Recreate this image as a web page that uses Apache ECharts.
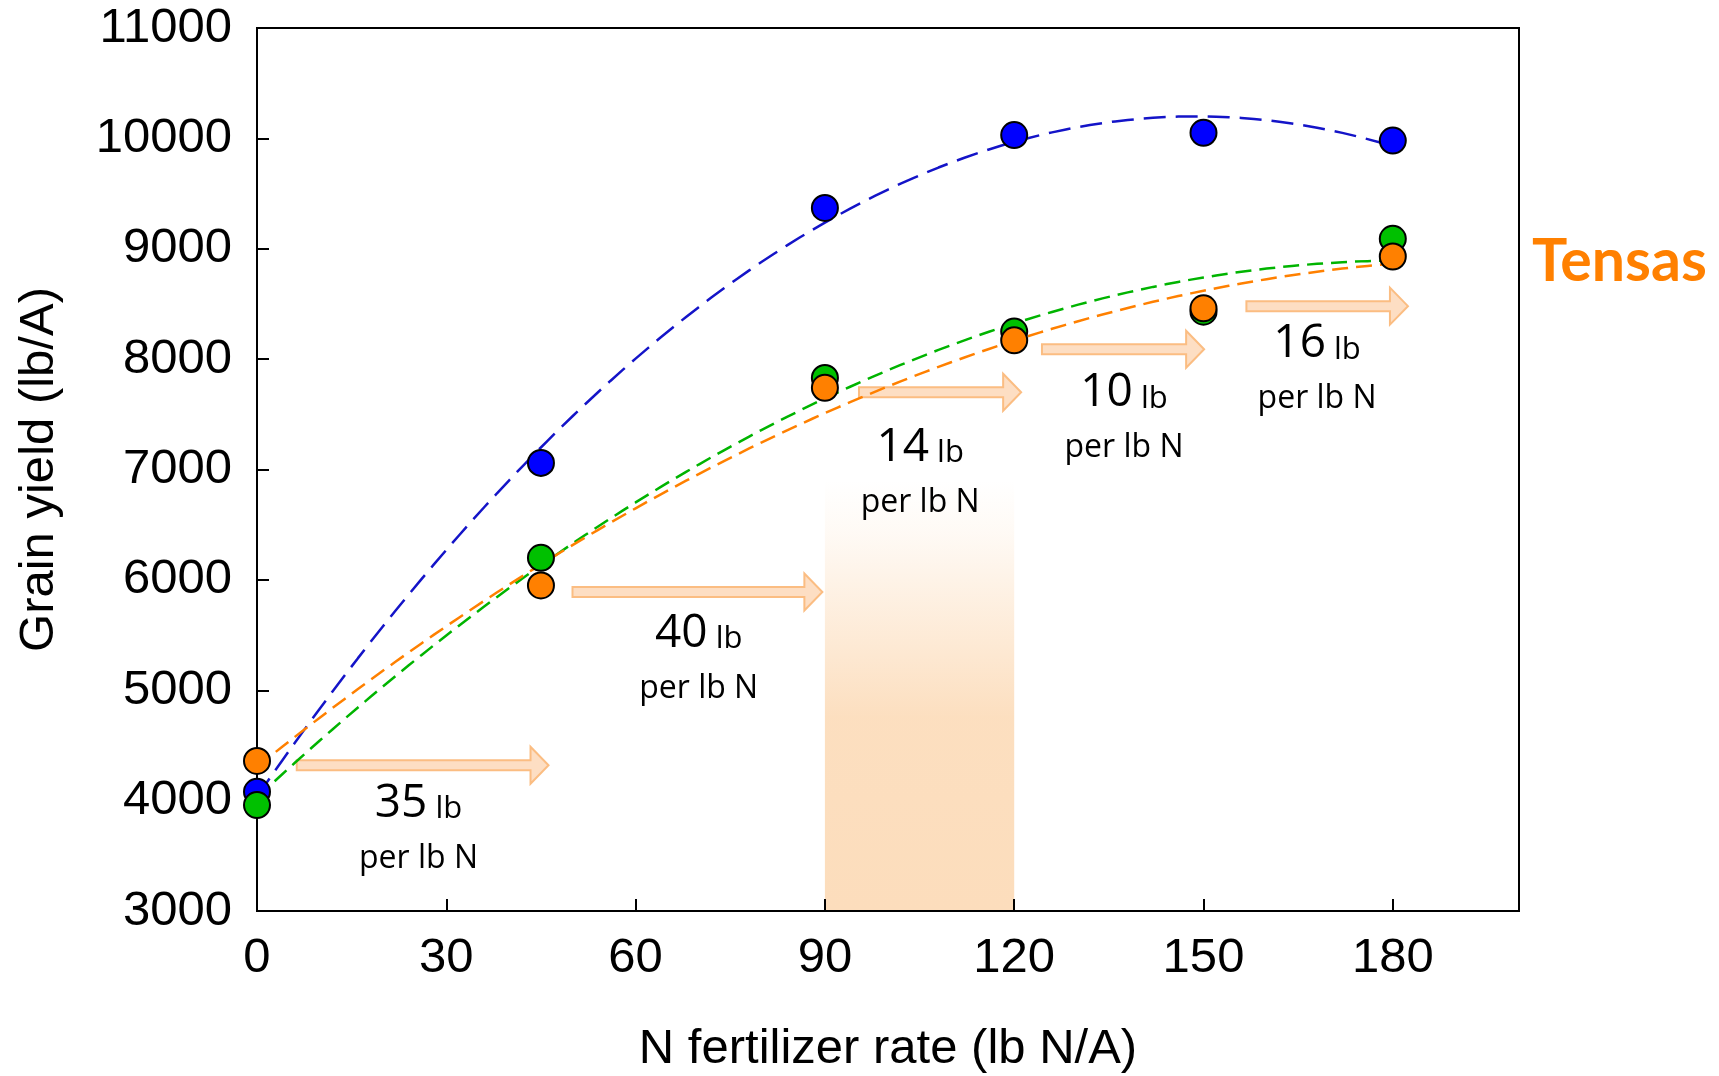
<!DOCTYPE html>
<html>
<head>
<meta charset="utf-8">
<script src="https://cdn.jsdelivr.net/npm/echarts@6/dist/echarts.min.js"></script>
<style>
  html, body { margin: 0; padding: 0; background: #ffffff; }
  #chart { width: 1719px; height: 1076px; }
</style>
</head>
<body>
<div id="chart"></div>
<script>
// N rates (lb N/A) and grain yield (lb/A) for the three hybrids/sites
const nRates = [0, 45, 90, 120, 150, 180];
const yieldBlue = [4080, 7060, 9370, 10030, 10050, 9980];
const yieldGreen = [3960, 6200, 7830, 8250, 8430, 9090];
const yieldOrange = [4360, 5950, 7740, 8170, 8460, 8930];

// yield response annotations: arrow [from N, to N, at yield]
const responseArrows = [
  [6.3, 46.2, 4320],
  [50.0, 89.6, 5890],
  [95.4, 121.1, 7700],
  [124.4, 150.1, 8090],
  [156.8, 182.4, 8480]
];
// response text: [centre N, yield, lb grain per lb N]
const responseLabels = [
  [25.6, 3970, '35'],
  [70.0, 5510, '40'],
  [105.1, 7200, '14'],
  [137.4, 7690, '10'],
  [168.0, 8135, '16']
];
// highlighted N range and the yield where its shading fades out
const optimumRange = [90, 120];
const optimumFadeTop = 6900;

// least-squares quadratic trendline y = a + b x + c x^2
function quadraticFit(xs, ys) {
  const S = [0, 0, 0, 0, 0], T = [0, 0, 0];
  xs.forEach((x, i) => {
    let p = 1;
    for (let k = 0; k < 5; k++) {
      S[k] += p;
      if (k < 3) T[k] += p * ys[i];
      p *= x;
    }
  });
  const M = [[S[0], S[1], S[2]], [S[1], S[2], S[3]], [S[2], S[3], S[4]]];
  const det = m =>
    m[0][0] * (m[1][1] * m[2][2] - m[1][2] * m[2][1]) -
    m[0][1] * (m[1][0] * m[2][2] - m[1][2] * m[2][0]) +
    m[0][2] * (m[1][0] * m[2][1] - m[1][1] * m[2][0]);
  const D = det(M);
  const c = [0, 1, 2].map(j => det(M.map((row, i) => row.map((v, k) => (k === j ? T[i] : v)))) / D);
  return x => c[0] + c[1] * x + c[2] * x * x;
}
function trendPoints(ys) {
  const f = quadraticFit(nRates, ys);
  const pts = [];
  const x0 = nRates[0], x1 = nRates[nRates.length - 1];
  for (let x = x0; x <= x1; x += 2) pts.push([x, f(x)]);
  return pts;
}
const pairs = ys => nRates.map((x, i) => [x, ys[i]]);

const AXIS_FONT = 'Liberation Sans, Arial, sans-serif';
const NOTE_FONT = 'Open Sans, Noto Sans, sans-serif';

const chart = echarts.init(document.getElementById('chart'), null, { renderer: 'canvas' });

const scatterStyle = color => ({
  type: 'scatter',
  symbol: 'circle',
  symbolSize: 26,
  itemStyle: { color: color, borderColor: '#000000', borderWidth: 2, opacity: 1 },
  emphasis: { disabled: true },
  silent: true
});
const trendStyle = (color, dash) => ({
  type: 'line',
  showSymbol: false,
  symbol: 'none',
  smooth: false,
  lineStyle: { color: color, width: 2.5, type: dash },
  emphasis: { disabled: true },
  silent: true
});

chart.setOption({
  animation: false,
  backgroundColor: '#ffffff',
  title: {
    text: 'Tensas',
    left: 1532,
    top: 232,
    padding: 0,
    textStyle: { color: '#FF8000', fontFamily: 'Lato, Open Sans, sans-serif', fontWeight: 'bold', fontSize: 59 }
  },
  grid: {
    left: 257, right: 200, top: 28, bottom: 165,
    containLabel: false,
    outerBoundsMode: 'none',
    show: true, borderColor: '#000000', borderWidth: 2, backgroundColor: 'transparent'
  },
  xAxis: {
    type: 'value',
    min: 0, max: 200, interval: 30,
    name: 'N fertilizer rate (lb N/A)',
    nameLocation: 'middle',
    nameGap: 114,
    nameTextStyle: { fontFamily: AXIS_FONT, fontSize: 49, color: '#000000' },
    axisLine: { show: true, onZero: false, lineStyle: { color: '#000000', width: 2 } },
    axisTick: { show: true, inside: true, length: 12, lineStyle: { color: '#000000', width: 2 } },
    axisLabel: { fontFamily: AXIS_FONT, fontSize: 49, color: '#000000', margin: 23, showMaxLabel: false,
                 formatter: v => String(v) },
    splitLine: { show: false }
  },
  yAxis: {
    type: 'value',
    min: 3000, max: 11000, interval: 1000,
    name: 'Grain yield (lb/A)',
    nameLocation: 'middle',
    nameGap: 193,
    nameTextStyle: { fontFamily: AXIS_FONT, fontSize: 49, color: '#000000' },
    axisLine: { show: true, lineStyle: { color: '#000000', width: 2 } },
    axisTick: { show: true, inside: true, length: 12, lineStyle: { color: '#000000', width: 2 } },
    axisLabel: { fontFamily: AXIS_FONT, fontSize: 49, color: '#000000', margin: 25,
                 formatter: v => String(v) },
    splitLine: { show: false }
  },
  series: [
    {
      // shaded optimum N band
      type: 'custom',
      silent: true,
      z: 0,
      clip: true,
      data: [[optimumRange[0], optimumRange[1], optimumFadeTop]],
      encode: { x: [0, 1], y: 2 },
      renderItem: (params, api) => {
        const tl = api.coord([api.value(0), api.value(2)]);
        const br = api.coord([api.value(1), 3000]);
        return {
          type: 'rect',
          shape: { x: tl[0], y: tl[1], width: br[0] - tl[0], height: br[1] - tl[1] },
          style: {
            fill: {
              type: 'linear', x: 0, y: 0, x2: 0, y2: 1,
              colorStops: [
                { offset: 0, color: 'rgba(252,221,188,0)' },
                { offset: 0.12, color: 'rgba(252,221,188,0.15)' },
                { offset: 0.55, color: 'rgba(252,221,188,0.95)' },
                { offset: 1, color: 'rgba(252,221,188,1)' }
              ]
            }
          }
        };
      }
    },
    {
      // block arrows
      type: 'custom',
      silent: true,
      z: 1,
      clip: false,
      data: responseArrows,
      encode: { x: [0, 1], y: 2 },
      renderItem: (params, api) => {
        const p0 = api.coord([api.value(0), api.value(2)]);
        const p1 = api.coord([api.value(1), api.value(2)]);
        const sh = 5, hh = 18.5, hl = 18;
        const x0 = p0[0], x1 = p1[0], y = p0[1];
        return {
          type: 'polygon',
          shape: {
            points: [[x0, y - sh], [x1 - hl, y - sh], [x1 - hl, y - hh], [x1, y],
                     [x1 - hl, y + hh], [x1 - hl, y + sh], [x0, y + sh]]
          },
          style: { fill: 'rgba(252,214,180,0.8)', stroke: '#FBBD82', lineWidth: 2 }
        };
      }
    },
    {
      // response text under each arrow
      type: 'custom',
      silent: true,
      z: 2,
      clip: false,
      data: responseLabels.map(d => [d[0], d[1]]),
      encode: { x: 0, y: 1 },
      renderItem: (params, api) => {
        const p = api.coord([api.value(0), api.value(1)]);
        const num = responseLabels[params.dataIndex][2];
        return {
          type: 'group',
          children: [
            {
              type: 'text', x: p[0], y: p[1],
              style: {
                text: '{n|' + num + '}{u| lb}',
                align: 'center', verticalAlign: 'middle',
                rich: {
                  n: { fontFamily: NOTE_FONT, fontSize: 46, lineHeight: 46, verticalAlign: 'bottom', fill: '#000000' },
                  u: { fontFamily: NOTE_FONT, fontSize: 31, lineHeight: 31, verticalAlign: 'bottom', fill: '#000000', padding: [0, 0, 2, 0] }
                }
              }
            },
            {
              type: 'text', x: p[0], y: p[1] + 55,
              style: {
                text: 'per lb N',
                fontFamily: NOTE_FONT, fontSize: 32, fill: '#000000',
                align: 'center', verticalAlign: 'middle'
              }
            }
          ]
        };
      }
    },
    Object.assign(trendStyle('#1414C8', [22, 10]), { name: 'Blue trend', data: trendPoints(yieldBlue), z: 3 }),
    Object.assign(trendStyle('#00B400', [16, 8]), { name: 'Green trend', data: trendPoints(yieldGreen), z: 3 }),
    Object.assign(trendStyle('#FF8000', [16, 8]), { name: 'Orange trend', data: trendPoints(yieldOrange), z: 3 }),
    Object.assign(scatterStyle('#0000FF'), { name: 'Blue', data: pairs(yieldBlue), z: 4 }),
    Object.assign(scatterStyle('#00C000'), { name: 'Green', data: pairs(yieldGreen), z: 5 }),
    Object.assign(scatterStyle('#FF8000'), { name: 'Orange', data: pairs(yieldOrange), z: 6 })
  ]
});
</script>
</body>
</html>
